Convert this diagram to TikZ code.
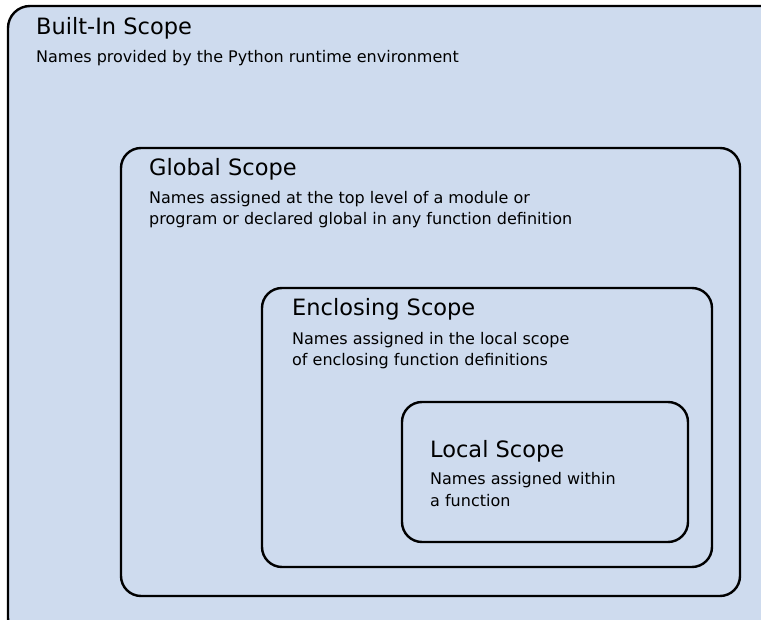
\documentclass[tikz,border=0pt]{standalone}
\usepackage{fontspec}
\setmainfont{DejaVu Sans}
\definecolor{scopefill}{HTML}{CEDBEE}
\tikzset{
  scopebox/.style={draw=black, line width=2.4pt, fill=scopefill, rounded corners=20pt},
  scopetitle/.style={anchor=base west, inner sep=0pt, font=\fontsize{22.5}{25}\selectfont},
  scopetext/.style={anchor=base west, inner sep=0pt, align=left, font=\fontsize{16}{21}\selectfont},
}
\begin{document}
\begin{tikzpicture}[x=1pt,y=-1pt]
\useasboundingbox (0,0) rectangle (761,620);
\clip (0,0) rectangle (761,620);
\fill[white] (0,0) rectangle (761,620);
\draw[scopebox, rounded corners=22pt] (8,6) rectangle (790,640);
\draw[scopebox] (121,148) rectangle (740,596);
\draw[scopebox] (262,288) rectangle (712,567);
\draw[scopebox] (402,402) rectangle (688,542);
\node[scopetitle] (bt) at (36,35) {Built-In Scope};
\node[scopetext] (bd) at (36,63) {Names provided by the Python runtime environment};
\node[scopetitle] (gt) at (149,176) {Global Scope};
\node[scopetext] (gd) at (149,225) {Names assigned at the top level of a module or\\program or declared global in any function definition};
\node[scopetitle] (et) at (292,316) {Enclosing Scope};
\node[scopetext] (ed) at (292,366) {Names assigned in the local scope\\of enclosing function definitions};
\node[scopetitle] (lt) at (430,457) {Local Scope};
\node[scopetext] (ld) at (430,506) {Names assigned within\\a function};
\end{tikzpicture}
\end{document}
